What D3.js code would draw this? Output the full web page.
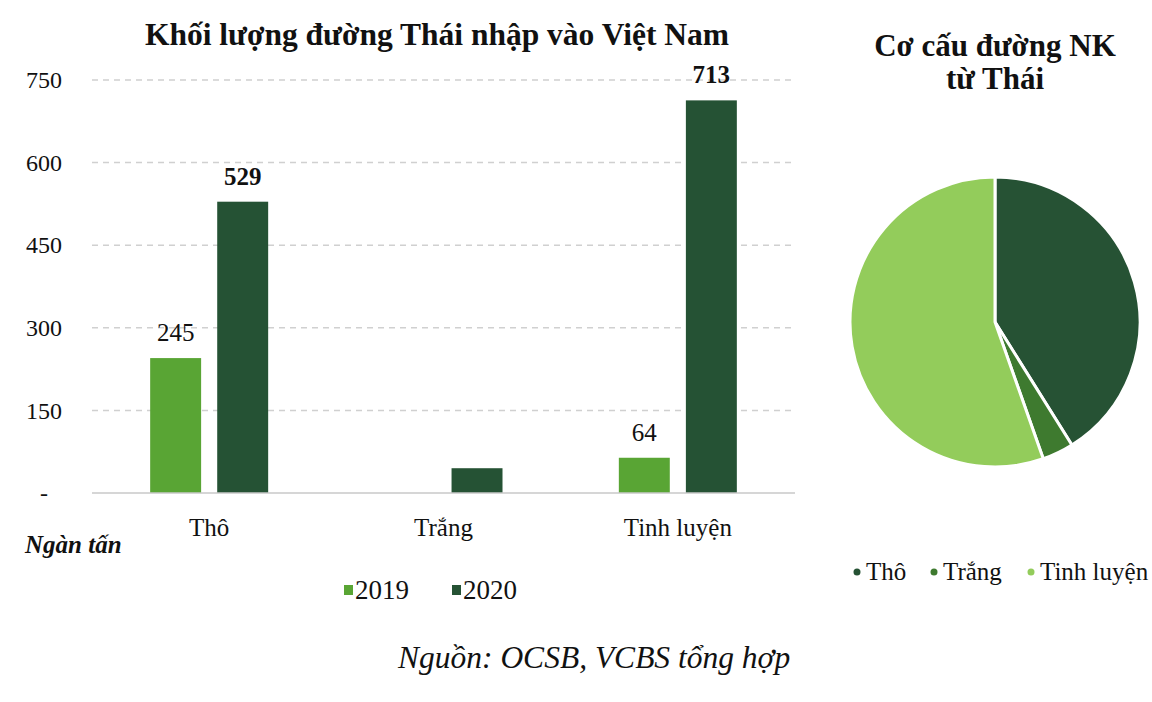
<!DOCTYPE html>
<html>
<head>
<meta charset="utf-8">
<script src="https://cdn.jsdelivr.net/npm/d3@7"></script>
<style>
  body { margin: 0; background: #fff; }
  text { font-family: "Liberation Serif", "Times New Roman", serif; fill: #111; }
</style>
</head>
<body>
<div id="chart"></div>
<script>
// Data
const categories = ["Thô", "Trắng", "Tinh luyện"];
const years = ["2019", "2020"];
const values2019 = [245, 0, 64];
const values2020 = [529, 45, 713];
const labels2019 = ["245", "", "64"];
const labels2020 = ["529", "", "713"];
const yTicks = [0, 150, 300, 450, 600, 750];
const pieValues = [529, 45, 713];

const width = 1152, height = 702;
const barColors = { "2019": "#59a534", "2020": "#255234" };
const pieColors = ["#265234", "#3e7a2f", "#93cc5b"];

const svg = d3.select("#chart").append("svg")
  .attr("width", width)
  .attr("height", height);

// Bar chart
const m = { left: 92, right: 795, top: 80, bottom: 493 };

const x = d3.scaleBand()
  .domain(categories)
  .range([m.left, m.right]);

const x1 = d3.scaleBand()
  .domain(years)
  .range([x.bandwidth() / 2 - 59, x.bandwidth() / 2 + 59])
  .paddingInner(0.24);

const y = d3.scaleLinear()
  .domain([0, 750])
  .range([m.bottom, m.top]);

// gridlines
svg.append("g")
  .selectAll("line")
  .data(yTicks.filter(d => d > 0))
  .join("line")
  .attr("x1", m.left)
  .attr("x2", m.right)
  .attr("y1", d => y(d))
  .attr("y2", d => y(d))
  .attr("stroke", "#d0d0d0")
  .attr("stroke-width", 1.5)
  .attr("stroke-dasharray", "6,5");

// y axis labels
const yAxis = svg.append("g")
  .attr("transform", `translate(${m.left - 27},0)`)
  .call(d3.axisLeft(y).tickValues(yTicks).tickSize(0).tickFormat(d => d === 0 ? "-" : d));
yAxis.select(".domain").remove();
yAxis.selectAll("text")
  .attr("font-size", 24)
  .attr("font-family", "Liberation Serif")
  .attr("fill", "#111")
  .attr("dx", d => d === 0 ? -14 : 0);

// bars
const rows = categories.map((c, i) => ({
  cat: c,
  items: [
    { year: "2019", v: values2019[i], label: labels2019[i] },
    { year: "2020", v: values2020[i], label: labels2020[i] }
  ]
}));

const groups = svg.append("g")
  .selectAll("g")
  .data(rows)
  .join("g")
  .attr("transform", d => `translate(${x(d.cat)},0)`);

groups.selectAll("rect")
  .data(d => d.items)
  .join("rect")
  .attr("x", d => x1(d.year))
  .attr("width", x1.bandwidth())
  .attr("y", d => y(d.v))
  .attr("height", d => y(0) - y(d.v))
  .attr("fill", d => barColors[d.year]);

groups.selectAll("text.val")
  .data(d => d.items)
  .join("text")
  .attr("class", "val")
  .attr("x", d => x1(d.year) + x1.bandwidth() / 2)
  .attr("y", d => y(d.v) - 17)
  .attr("text-anchor", "middle")
  .attr("font-size", 25)
  .attr("font-weight", d => d.year === "2020" ? "bold" : "normal")
  .text(d => d.label);

// baseline
svg.append("line")
  .attr("x1", m.left)
  .attr("x2", m.right)
  .attr("y1", y(0))
  .attr("y2", y(0))
  .attr("stroke", "#c8c8c8")
  .attr("stroke-width", 1.5);

// category labels
svg.append("g")
  .selectAll("text")
  .data(categories)
  .join("text")
  .attr("x", d => x(d) + x.bandwidth() / 2)
  .attr("y", 536)
  .attr("text-anchor", "middle")
  .attr("font-size", 25)
  .text(d => d);

svg.append("text")
  .attr("x", 25)
  .attr("y", 553)
  .attr("font-size", 25)
  .attr("font-weight", "bold")
  .attr("font-style", "italic")
  .text("Ngàn tấn");

// title
svg.append("text")
  .attr("x", 437)
  .attr("y", 45)
  .attr("text-anchor", "middle")
  .attr("font-size", 31.5)
  .attr("font-weight", "bold")
  .text("Khối lượng đường Thái nhập vào Việt Nam");

// bar legend
const legX = [344, 452];
const leg = svg.append("g")
  .selectAll("g")
  .data(years)
  .join("g")
  .attr("transform", (d, i) => `translate(${legX[i]},590)`);
leg.append("rect")
  .attr("x", 0).attr("y", -5)
  .attr("width", 9).attr("height", 10)
  .attr("fill", d => barColors[d]);
leg.append("text")
  .attr("x", 11)
  .attr("y", 9)
  .attr("font-size", 27)
  .text(d => d);

// source
svg.append("text")
  .attr("x", 398)
  .attr("y", 668)
  .attr("font-size", 31.5)
  .attr("font-style", "italic")
  .text("Nguồn: OCSB, VCBS tổng hợp");

// Pie chart
const cx = 995, cy = 322, r = 145;

svg.append("text")
  .attr("x", cx)
  .attr("text-anchor", "middle")
  .attr("font-size", 31)
  .attr("font-weight", "bold")
  .selectAll("tspan")
  .data(["Cơ cấu đường NK", "từ Thái"])
  .join("tspan")
  .attr("x", cx)
  .attr("y", (d, i) => 56 + i * 33)
  .text(d => d);

const pie = d3.pie().sort(null).value(d => d);
const arc = d3.arc().innerRadius(0).outerRadius(r);

svg.append("g")
  .attr("transform", `translate(${cx},${cy})`)
  .selectAll("path")
  .data(pie(pieValues))
  .join("path")
  .attr("d", arc)
  .attr("fill", (d, i) => pieColors[i])
  .attr("stroke", "#fff")
  .attr("stroke-width", 3);

// pie legend
const pieLegX = [857, 934, 1031];
const pleg = svg.append("g")
  .selectAll("g")
  .data(categories)
  .join("g")
  .attr("transform", (d, i) => `translate(${pieLegX[i]},572)`);
pleg.append("circle")
  .attr("r", 3.5)
  .attr("fill", (d, i) => pieColors[i]);
pleg.append("text")
  .attr("x", 9)
  .attr("y", 8)
  .attr("font-size", 25)
  .text(d => d);
</script>
</body>
</html>
